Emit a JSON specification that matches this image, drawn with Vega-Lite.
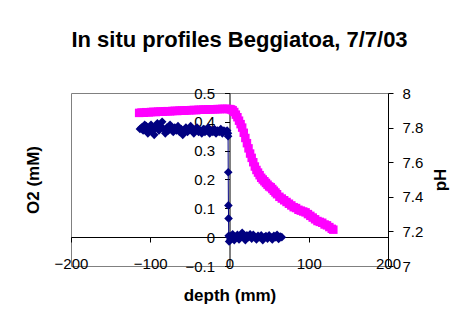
{
  "$schema": "https://vega.github.io/schema/vega-lite/v6.json",
  "autosize": {"type": "none"},
  "width": 317,
  "height": 173,
  "padding": {"left": 71, "top": 93, "right": 76, "bottom": 55},
  "background": "white",
  "config": {
    "font": "Liberation Sans",
    "view": {"stroke": "#808080", "strokeWidth": 1}
  },
  "title": {
    "text": "In situ profiles Beggiatoa, 7/7/03",
    "fontSize": 22,
    "fontWeight": "bold",
    "font": "Liberation Sans",
    "color": "black",
    "anchor": "middle",
    "dx": 10,
    "offset": 34
  },
  "datasets": {
    "o2": [
      {"depth": -113, "value": 0.375}, {"depth": -111, "value": 0.38}, {"depth": -109, "value": 0.37},
      {"depth": -107, "value": 0.39}, {"depth": -105, "value": 0.385}, {"depth": -103, "value": 0.36},
      {"depth": -101, "value": 0.375}, {"depth": -99, "value": 0.39}, {"depth": -97, "value": 0.37},
      {"depth": -95, "value": 0.355}, {"depth": -93, "value": 0.38}, {"depth": -91, "value": 0.395},
      {"depth": -89, "value": 0.37}, {"depth": -87, "value": 0.385}, {"depth": -85, "value": 0.4},
      {"depth": -83, "value": 0.375}, {"depth": -81, "value": 0.36}, {"depth": -79, "value": 0.38},
      {"depth": -77, "value": 0.37}, {"depth": -75, "value": 0.39}, {"depth": -73, "value": 0.375},
      {"depth": -71, "value": 0.365}, {"depth": -69, "value": 0.38}, {"depth": -67, "value": 0.37},
      {"depth": -65, "value": 0.385}, {"depth": -63, "value": 0.365}, {"depth": -61, "value": 0.375},
      {"depth": -59, "value": 0.355}, {"depth": -57, "value": 0.37}, {"depth": -55, "value": 0.38},
      {"depth": -53, "value": 0.365}, {"depth": -51, "value": 0.375}, {"depth": -49, "value": 0.385},
      {"depth": -47, "value": 0.37}, {"depth": -45, "value": 0.36}, {"depth": -43, "value": 0.375},
      {"depth": -41, "value": 0.38}, {"depth": -39, "value": 0.365}, {"depth": -37, "value": 0.37},
      {"depth": -35, "value": 0.36}, {"depth": -33, "value": 0.375}, {"depth": -31, "value": 0.365},
      {"depth": -29, "value": 0.37}, {"depth": -27, "value": 0.38}, {"depth": -25, "value": 0.36},
      {"depth": -23, "value": 0.37}, {"depth": -21, "value": 0.365}, {"depth": -19, "value": 0.375},
      {"depth": -17, "value": 0.36}, {"depth": -15, "value": 0.37}, {"depth": -13, "value": 0.365},
      {"depth": -11, "value": 0.375}, {"depth": -9, "value": 0.36}, {"depth": -7, "value": 0.37},
      {"depth": -5, "value": 0.365}, {"depth": -3, "value": 0.37}, {"depth": -2, "value": 0.36},
      {"depth": -1.8, "value": 0.35}, {"depth": -1.6, "value": 0.225}, {"depth": -1.4, "value": 0.11},
      {"depth": -1.2, "value": 0.065}, {"depth": -1.0, "value": 0.005}, {"depth": -0.5, "value": -0.015},
      {"depth": 0, "value": 0.0}, {"depth": 1, "value": -0.01}, {"depth": 2, "value": 0.005},
      {"depth": 3, "value": -0.005}, {"depth": 4, "value": 0.01}, {"depth": 6, "value": -0.01},
      {"depth": 8, "value": 0.0}, {"depth": 10, "value": 0.008}, {"depth": 12, "value": -0.008},
      {"depth": 14, "value": 0.005}, {"depth": 16, "value": 0.015}, {"depth": 18, "value": 0.0},
      {"depth": 20, "value": -0.01}, {"depth": 22, "value": 0.006}, {"depth": 24, "value": 0.0},
      {"depth": 26, "value": 0.01}, {"depth": 28, "value": -0.005}, {"depth": 30, "value": 0.008},
      {"depth": 32, "value": 0.0}, {"depth": 34, "value": -0.008}, {"depth": 36, "value": 0.005},
      {"depth": 38, "value": 0.0}, {"depth": 40, "value": 0.006}, {"depth": 42, "value": -0.01},
      {"depth": 44, "value": 0.0}, {"depth": 46, "value": 0.004}, {"depth": 48, "value": -0.005},
      {"depth": 50, "value": 0.006}, {"depth": 52, "value": 0.0}, {"depth": 54, "value": -0.008},
      {"depth": 56, "value": 0.005}, {"depth": 58, "value": 0.0}, {"depth": 60, "value": 0.008},
      {"depth": 62, "value": -0.006}, {"depth": 64, "value": 0.002}, {"depth": 66, "value": 0.0}
    ],
    "ph": [
      {"depth": -114, "value": 7.885}, {"depth": -111, "value": 7.887}, {"depth": -108, "value": 7.886},
      {"depth": -105, "value": 7.889}, {"depth": -102, "value": 7.888}, {"depth": -99, "value": 7.89},
      {"depth": -96, "value": 7.891}, {"depth": -93, "value": 7.89}, {"depth": -90, "value": 7.892},
      {"depth": -87, "value": 7.893}, {"depth": -84, "value": 7.892}, {"depth": -81, "value": 7.894},
      {"depth": -78, "value": 7.895}, {"depth": -75, "value": 7.894}, {"depth": -72, "value": 7.896},
      {"depth": -69, "value": 7.897}, {"depth": -66, "value": 7.896}, {"depth": -63, "value": 7.898},
      {"depth": -60, "value": 7.899}, {"depth": -57, "value": 7.898}, {"depth": -54, "value": 7.9},
      {"depth": -51, "value": 7.9}, {"depth": -48, "value": 7.901}, {"depth": -45, "value": 7.902},
      {"depth": -42, "value": 7.901}, {"depth": -39, "value": 7.903}, {"depth": -36, "value": 7.903},
      {"depth": -33, "value": 7.904}, {"depth": -30, "value": 7.904}, {"depth": -27, "value": 7.905},
      {"depth": -24, "value": 7.905}, {"depth": -21, "value": 7.906}, {"depth": -18, "value": 7.906},
      {"depth": -15, "value": 7.907}, {"depth": -12, "value": 7.907}, {"depth": -9, "value": 7.908},
      {"depth": -6, "value": 7.908}, {"depth": -3, "value": 7.908}, {"depth": 0, "value": 7.907},
      {"depth": 2, "value": 7.905}, {"depth": 4, "value": 7.9}, {"depth": 6, "value": 7.89},
      {"depth": 8, "value": 7.875}, {"depth": 10, "value": 7.86}, {"depth": 12, "value": 7.84},
      {"depth": 14, "value": 7.82}, {"depth": 16, "value": 7.8}, {"depth": 18, "value": 7.77},
      {"depth": 20, "value": 7.74}, {"depth": 22, "value": 7.71}, {"depth": 24, "value": 7.68},
      {"depth": 26, "value": 7.65}, {"depth": 28, "value": 7.625}, {"depth": 30, "value": 7.6},
      {"depth": 32, "value": 7.575}, {"depth": 34, "value": 7.555}, {"depth": 36, "value": 7.54},
      {"depth": 38, "value": 7.525}, {"depth": 40, "value": 7.51}, {"depth": 42, "value": 7.5},
      {"depth": 44, "value": 7.49}, {"depth": 46, "value": 7.48}, {"depth": 48, "value": 7.47},
      {"depth": 50, "value": 7.46}, {"depth": 52, "value": 7.455}, {"depth": 54, "value": 7.445},
      {"depth": 56, "value": 7.435}, {"depth": 58, "value": 7.425}, {"depth": 60, "value": 7.415},
      {"depth": 63, "value": 7.4}, {"depth": 66, "value": 7.39}, {"depth": 69, "value": 7.38},
      {"depth": 72, "value": 7.37}, {"depth": 75, "value": 7.36}, {"depth": 78, "value": 7.35},
      {"depth": 81, "value": 7.34}, {"depth": 84, "value": 7.335}, {"depth": 87, "value": 7.325},
      {"depth": 90, "value": 7.32}, {"depth": 93, "value": 7.315}, {"depth": 96, "value": 7.31},
      {"depth": 99, "value": 7.3}, {"depth": 102, "value": 7.29}, {"depth": 105, "value": 7.28},
      {"depth": 108, "value": 7.27}, {"depth": 111, "value": 7.26}, {"depth": 114, "value": 7.255},
      {"depth": 117, "value": 7.25}, {"depth": 120, "value": 7.24}, {"depth": 123, "value": 7.235},
      {"depth": 126, "value": 7.225}, {"depth": 129, "value": 7.215}, {"depth": 131, "value": 7.21}
    ]
  },
  "layer": [
    {
      "data": {"name": "o2"},
      "mark": {
        "type": "line",
        "color": "#000080",
        "strokeWidth": 1,
        "clip": false,
        "point": {"shape": "diamond", "filled": true, "size": 75, "color": "#000080", "opacity": 1}
      },
      "encoding": {
        "x": {
          "field": "depth", "type": "quantitative",
          "scale": {"domain": [-200, 200], "nice": false, "zero": false},
          "axis": {
            "title": "depth (mm)",
            "titleFontSize": 17, "titleFontWeight": "bold", "titleColor": "black", "titleFont": "Liberation Sans",
            "titlePadding": 16,
            "values": [-200, -100, 0, 100, 200],
            "offset": -29,
            "grid": false,
            "domainColor": "black", "tickColor": "black", "tickSize": 5,
            "labelFontSize": 15, "labelColor": "black", "labelFont": "Liberation Sans",
            "labelPadding": 14, "labelOverlap": false, "labelFlush": false
          }
        },
        "y": {
          "field": "value", "type": "quantitative",
          "scale": {"domain": [-0.1, 0.5], "nice": false, "zero": false},
          "axis": {
            "title": "O2 (mM)",
            "titleFontSize": 17, "titleFontWeight": "bold", "titleColor": "black", "titleFont": "Liberation Sans",
            "titlePadding": 142,
            "values": [-0.1, 0, 0.1, 0.2, 0.3, 0.4, 0.5],
            "format": "~g",
            "offset": -158.5,
            "grid": false,
            "domainColor": "black", "tickColor": "black", "tickSize": 5,
            "labelFontSize": 15, "labelColor": "black", "labelFont": "Liberation Sans",
            "labelPadding": 10, "labelOverlap": false, "labelFlush": false
          }
        }
      }
    },
    {
      "data": {"name": "ph"},
      "mark": {
        "type": "point",
        "shape": "square",
        "filled": true,
        "size": 72,
        "color": "#FF00FF",
        "opacity": 1
      },
      "encoding": {
        "x": {"field": "depth", "type": "quantitative"},
        "y": {
          "field": "value", "type": "quantitative",
          "scale": {"domain": [7, 8], "nice": false, "zero": false},
          "axis": {
            "orient": "right",
            "title": "pH",
            "titleAngle": 270,
            "titleFontSize": 17, "titleFontWeight": "bold", "titleColor": "black", "titleFont": "Liberation Sans",
            "titlePadding": 27,
            "values": [7, 7.2, 7.4, 7.6, 7.8, 8],
            "format": "~g",
            "grid": false,
            "domainColor": "black", "tickColor": "black", "tickSize": 5,
            "labelFontSize": 15, "labelColor": "black", "labelFont": "Liberation Sans",
            "labelPadding": 9, "labelOverlap": false, "labelFlush": false
          }
        }
      }
    }
  ],
  "resolve": {"scale": {"y": "independent"}}
}
